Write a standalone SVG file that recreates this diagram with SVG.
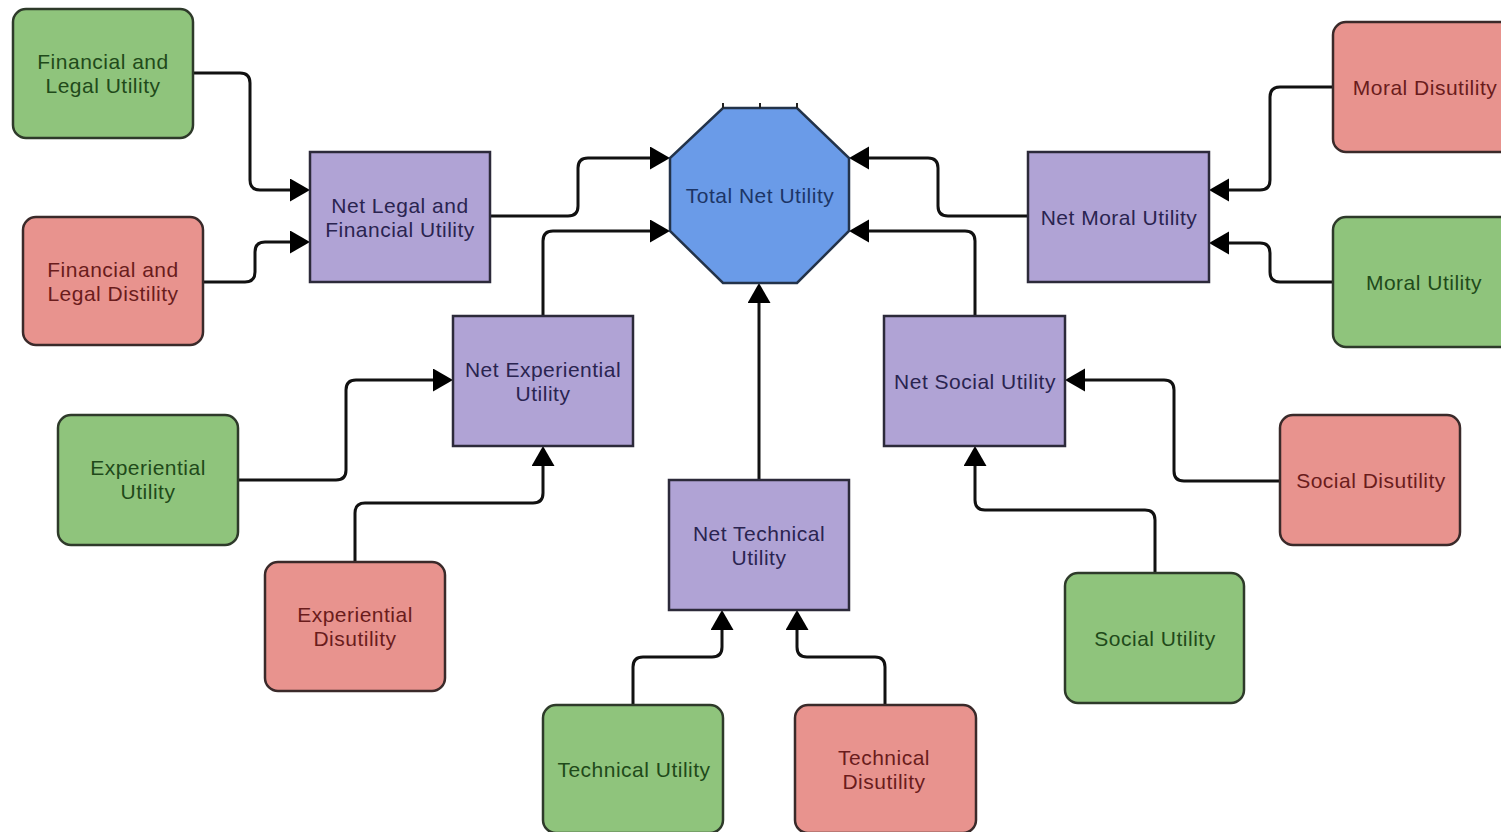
<svg xmlns="http://www.w3.org/2000/svg" width="1501" height="832" viewBox="0 0 1501 832">
<style>
text{font-family:"Liberation Sans",Arial,sans-serif;font-size:21px;letter-spacing:0.5px;text-anchor:middle;dominant-baseline:central}
.g rect{fill:#8fc47c;stroke:#2e3a2a;stroke-width:2.5}
.r rect{fill:#e8938e;stroke:#3a2a2a;stroke-width:2.5}
.p rect{fill:#b0a3d5;stroke:#2c2a3a;stroke-width:2.5}
.g text{fill:#1f4a1a}
.r text{fill:#6a1c1c}
.p text{fill:#2a2450}
.c path{fill:none;stroke:#111;stroke-width:3;marker-end:url(#ah)}
</style>
<defs>
<marker id="ah" markerUnits="userSpaceOnUse" markerWidth="22" markerHeight="24" refX="0" refY="11.5" orient="auto"><path d="M0,0 L20,11.5 L0,23 z" fill="#000"/></marker>
</defs>
<rect width="1501" height="832" fill="#fff"/>
<g class="c" id="connectors">
<path d="M193,73 H240 Q250,73 250,83 V180 Q250,190 260,190 H290"/>
<path d="M203,282 H245 Q255,282 255,272 V252 Q255,242 265,242 H290"/>
<path d="M490,216 H568 Q578,216 578,206 V168 Q578,158 588,158 H650"/>
<path d="M543,316 V241 Q543,231 553,231 H650"/>
<path d="M759,480 V303"/>
<path d="M975,316 V241 Q975,231 965,231 H869"/>
<path d="M1028,216 H948 Q938,216 938,206 V168 Q938,158 928,158 H869"/>
<path d="M1333,87 H1280 Q1270,87 1270,97 V180 Q1270,190 1260,190 H1229"/>
<path d="M1333,282 H1280 Q1270,282 1270,272 V253 Q1270,243 1260,243 H1229"/>
<path d="M238,480 H336 Q346,480 346,470 V390 Q346,380 356,380 H433"/>
<path d="M355,562 V513 Q355,503 365,503 H533 Q543,503 543,493 V466"/>
<path d="M633,705 V667 Q633,657 643,657 H712 Q722,657 722,647 V630"/>
<path d="M885,705 V667 Q885,657 875,657 H807 Q797,657 797,647 V630"/>
<path d="M1280,481 H1184 Q1174,481 1174,471 V390 Q1174,380 1164,380 H1085"/>
<path d="M1155,573 V520 Q1155,510 1145,510 H985 Q975,510 975,500 V466"/>
</g>
<g id="total">
<polygon points="723,108 797,108 849,158 849,231 797,283 723,283 670,231 670,158" fill="#6a9be8" stroke="#23334a" stroke-width="2.5"/>
<path d="M723,103 V108 M760,103 V108 M797,103 V108" stroke="#222" stroke-width="2"/>
<text x="760" y="195" fill="#1c3566">Total Net Utility</text>
</g>
<g id="fin-legal-utility" class="g"><rect x="13" y="9" width="180" height="129" rx="13"/><text x="103" y="61">Financial and</text><text x="103" y="85">Legal Utility</text></g>
<g id="fin-legal-distility" class="r"><rect x="23" y="217" width="180" height="128" rx="13"/><text x="113" y="269">Financial and</text><text x="113" y="293">Legal Distility</text></g>
<g id="net-legal" class="p"><rect x="310" y="152" width="180" height="130"/><text x="400" y="205">Net Legal and</text><text x="400" y="229">Financial Utility</text></g>
<g id="net-moral" class="p"><rect x="1028" y="152" width="181" height="130"/><text x="1119" y="217">Net Moral Utility</text></g>
<g id="moral-disutility" class="r"><rect x="1333" y="22" width="182" height="130" rx="13"/><text x="1425" y="87">Moral Disutility</text></g>
<g id="moral-utility" class="g"><rect x="1333" y="217" width="182" height="130" rx="13"/><text x="1424" y="282">Moral Utility</text></g>
<g id="net-experiential" class="p"><rect x="453" y="316" width="180" height="130"/><text x="543" y="369">Net Experiential</text><text x="543" y="393">Utility</text></g>
<g id="experiential-utility" class="g"><rect x="58" y="415" width="180" height="130" rx="13"/><text x="148" y="467">Experiential</text><text x="148" y="491">Utility</text></g>
<g id="experiential-disutility" class="r"><rect x="265" y="562" width="180" height="129" rx="13"/><text x="355" y="614">Experiential</text><text x="355" y="638">Disutility</text></g>
<g id="net-technical" class="p"><rect x="669" y="480" width="180" height="130"/><text x="759" y="533">Net Technical</text><text x="759" y="557">Utility</text></g>
<g id="technical-utility" class="g"><rect x="543" y="705" width="180" height="128" rx="13"/><text x="634" y="769">Technical Utility</text></g>
<g id="technical-disutility" class="r"><rect x="795" y="705" width="181" height="128" rx="13"/><text x="884" y="757">Technical</text><text x="884" y="781">Disutility</text></g>
<g id="net-social" class="p"><rect x="884" y="316" width="181" height="130"/><text x="975" y="381">Net Social Utility</text></g>
<g id="social-disutility" class="r"><rect x="1280" y="415" width="180" height="130" rx="13"/><text x="1371" y="480">Social Disutility</text></g>
<g id="social-utility" class="g"><rect x="1065" y="573" width="179" height="130" rx="13"/><text x="1155" y="638">Social Utility</text></g>
</svg>
